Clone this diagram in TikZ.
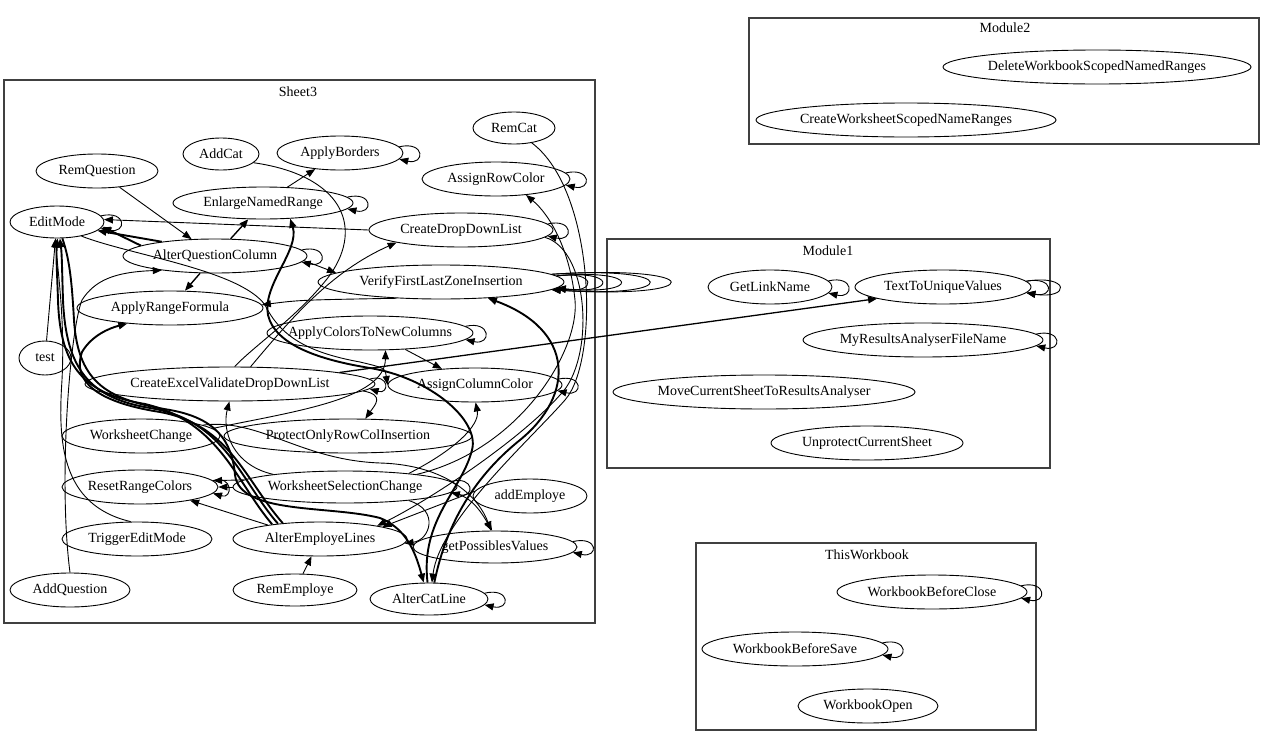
\documentclass[tikz,border=0pt]{standalone}
\usepackage{fontspec}
\setmainfont{Liberation Serif}
\usetikzlibrary{arrows.meta,calc,shapes.geometric}
\tikzset{
  nd/.style={draw, ellipse, inner sep=0pt, line width=0.9pt},
  e/.style={draw, line width=0.9pt, -{Triangle[length=9pt,width=7pt]}},
  eb/.style={e, line width=1.9pt},
  em/.style={e, line width=1.4pt},
  cl/.style={draw=black!75, line width=1.1pt},
  cll/.style={inner sep=0pt},
}
\newcommand\mknode[6]{\node[nd, minimum width=#4pt, minimum height=#5pt] (#1) at (#2,#3) {\makebox[0pt]{#6}};}
\newcommand\myloop[4]{\pgfmathtruncatemacro\la{atan2(#3*0.4,#2*0.917)}\draw[e] (#1.\la) .. controls +(#4,-6) and +(#4,6) .. (#1.-\la);}
\begin{document}
\begin{tikzpicture}[x=1pt,y=-1pt,font=\fontsize{14}{16}\selectfont]
\useasboundingbox[fill=white] (0,0) rectangle (1267,739);
% clusters
\draw[cl] (4,80) rectangle (595,623);
\node[cll] (lsheet) at (298,92) {Sheet3};
\draw[cl] (749,18) rectangle (1259,144);
\node[cll] (lmod2) at (1005,28) {Module2};
\draw[cl] (607,239) rectangle (1050,468);
\node[cll] (lmod1) at (828,251) {Module1};
\draw[cl] (696,543) rectangle (1036,730);
\node[cll] (lwb) at (867,555) {ThisWorkbook};
% Sheet3 nodes
\mknode{remq}{97}{171}{122}{34}{RemQuestion}
\mknode{addcat}{221}{154}{76}{32}{AddCat}
\mknode{applyb}{340}{153}{126}{34}{ApplyBorders}
\mknode{enr}{263}{203}{180}{32}{EnlargeNamedRange}
\mknode{edit}{57}{222}{94}{32}{EditMode}
\mknode{aqc}{215}{256}{184}{34}{AlterQuestionColumn}
\mknode{arf}{170}{308}{186}{34}{ApplyRangeFormula}
\mknode{remcat}{514}{128}{82}{32}{RemCat}
\mknode{arc}{496}{179}{148}{34}{AssignRowColor}
\mknode{cddl}{461}{230}{184}{34}{CreateDropDownList}
\mknode{verify}{441}{282}{246}{34}{VerifyFirstLastZoneInsertion}
\mknode{actnc}{370}{333}{206}{34}{ApplyColorsToNewColumns}
\mknode{cevddl}{230}{384}{290}{34}{CreateExcelValidateDropDownList}
\mknode{acc}{475}{385}{174}{34}{AssignColumnColor}
\mknode{test}{45}{358}{52}{34}{test}
\mknode{wc}{141}{436}{158}{34}{WorksheetChange}
\mknode{porci}{348}{436}{248}{34}{ProtectOnlyRowColInsertion}
\mknode{rrc}{140}{487}{156}{34}{ResetRangeColors}
\mknode{wsc}{345}{487}{224}{32}{WorksheetSelectionChange}
\mknode{addemp}{530}{496}{114}{34}{addEmploye}
\mknode{trig}{137}{539}{150}{34}{TriggerEditMode}
\mknode{ael}{320}{539}{174}{34}{AlterEmployeLines}
\mknode{gpv}{495}{547}{164}{32}{getPossiblesValues}
\mknode{addq}{70}{590}{120}{34}{AddQuestion}
\mknode{reme}{295}{590}{124}{32}{RemEmploye}
\mknode{acl}{429}{599}{118}{32}{AlterCatLine}
% Module2
\mknode{dwsnr}{1097}{67}{308}{34}{DeleteWorkbookScopedNamedRanges}
\mknode{cwsnr}{906}{120}{300}{34}{CreateWorksheetScopedNameRanges}
% Module1
\mknode{gln}{770}{287}{124}{34}{GetLinkName}
\mknode{ttuv}{943}{287}{176}{34}{TextToUniqueValues}
\mknode{myr}{923}{340}{240}{34}{MyResultsAnalyserFileName}
\mknode{mcs}{764}{392}{302}{34}{MoveCurrentSheetToResultsAnalyser}
\mknode{ucs}{867}{443}{192}{34}{UnprotectCurrentSheet}
% ThisWorkbook
\mknode{wbc}{932}{592}{190}{34}{WorkbookBeforeClose}
\mknode{wbs}{795}{649}{186}{34}{WorkbookBeforeSave}
\mknode{wbo}{868}{706}{140}{34}{WorkbookOpen}
% self loops
\myloop{edit}{47}{16}{26}
\myloop{aqc}{92}{17}{26}
\myloop{enr}{90}{16}{26}
\myloop{applyb}{63}{17}{26}
\myloop{arc}{74}{17}{26}
\myloop{cddl}{92}{17}{26}
\myloop{actnc}{103}{17}{26}
\myloop{acc}{87}{17}{26}
\myloop{cevddl}{145}{17}{20}
\myloop{wsc}{112}{16}{24}
\myloop{rrc}{78}{17}{20}
\myloop{gpv}{82}{16}{26}
\myloop{acl}{59}{16}{26}
\myloop{gln}{62}{17}{26}
\myloop{myr}{120}{17}{26}
\myloop{wbc}{95}{17}{26}
\myloop{wbs}{93}{17}{26}
\draw[e] (ttuv.4) .. controls +(28,-5) and +(28,5) .. (ttuv.-4);
\draw[e] (ttuv.4) .. controls +(44,-7) and +(44,7) .. (ttuv.-4);
\draw[e] (verify.3) .. controls +(40,-6) and +(40,6) .. (verify.-3);
\draw[e] (verify.3) .. controls +(60,-7) and +(60,7) .. (verify.-3);
\draw[e] (verify.3) .. controls +(85,-8) and +(85,8) .. (verify.-3);
\draw[e] (verify.4) .. controls +(130,-9) and +(130,9) .. (verify.-4);
\draw[e] (verify.4) .. controls +(158,-10) and +(158,10) .. (verify.-4);
% Sheet3 edges
\draw[e] (remq) -- (aqc);
\draw[eb] (aqc.165) -- (edit.-12);
\draw[eb] (aqc.172) -- (edit.-6);
\draw[em] (aqc) -- (enr);
\draw[em] (aqc) -- (arf);
\draw[e] (enr) -- (applyb);
\draw[e] (cddl.180) -- (edit.3);
\draw[line width=0.9pt] (addcat.-15) .. controls (340,175) and (365,225) .. (330,275) .. controls (300,315) and (255,345) .. (cevddl.75);
\draw[e] (cevddl.40) .. controls (290,320) and (330,272) .. (cddl.-169);
\draw[e] (aqc.-3) -- (verify.175);
\draw[e] (verify.200) .. controls (300,300) .. (arf.2);
\draw[e] (edit.-30) .. controls (130,255) and (240,270) .. (265,305) .. controls (280,335) and (305,352) .. (360,362) .. controls (385,368) .. (acc.180);
\draw[e] (test) -- (edit);
\draw[e] (trig.110) .. controls (60,505) and (58,440) .. (62,380) .. controls (65,320) and (58,275) .. (edit.-95);
\draw[e] (addq.90) .. controls (58,480) and (70,330) .. (82,300) .. controls (95,280) and (115,272) .. (aqc.195);
% thick bundle
\draw[eb] (ael.160) .. controls (240,480) and (225,420) .. (150,408) .. controls (90,398) and (66,370) .. (63,300) .. controls (62,270) and (62,255) .. (edit.-80);
\draw[eb] (ael.163) .. controls (236,482) and (220,422) .. (145,404) .. controls (85,394) and (60,368) .. (58,300) .. controls (57,270) and (56,255) .. (edit.-88);
\draw[eb] (ael.157) .. controls (245,480) and (230,425) .. (160,412) .. controls (95,402) and (72,380) .. (82,352) .. controls (92,335) and (110,328) .. (arf.-160);
\draw[eb] (edit.-72) .. controls (70,260) and (72,285) .. (74,320) .. controls (78,385) and (110,400) .. (170,410) .. controls (215,418) and (232,440) .. (235,475) .. controls (240,515) and (330,505) .. (380,518) .. controls (405,528) and (415,550) .. (acl.108);
\draw[eb] (acl.95) .. controls (420,520) and (462,490) .. (472,450) .. controls (480,420) and (430,378) .. (370,368) .. controls (320,360) and (275,345) .. (268,315) .. controls (262,285) and (300,250) .. (enr.-30);
\draw[eb] (acl.72) .. controls (445,530) and (470,480) .. (520,440) .. controls (575,395) and (575,330) .. (verify.-19);
% other thin edges
\draw[e] (wsc.180) -- (rrc.0);
\draw[e] (wsc.176) -- (rrc.5);
\draw[e] (ael.165) -- (rrc.-15);
\draw[e] (reme) -- (ael);
\draw[e] (addemp.175) -- (ael.11);
\draw[e] (cddl.-5) .. controls (590,250) and (595,360) .. (560,395) .. controls (520,440) and (430,500) .. (ael.13);
\draw[e] (remcat.-40) .. controls (595,190) and (600,360) .. (565,400) .. controls (530,440) and (440,520) .. (acl.80);
\draw[e] (wsc.10) .. controls (520,450) and (580,350) .. (575,300) .. controls (570,250) and (550,215) .. (arc.-28);
\draw[e] (wsc.12) .. controls (455,450) and (480,425) .. (acc.-88);
\draw[e] (wsc.-3) .. controls (470,495) and (480,510) .. (gpv.100);
\draw[e] (wc.10) .. controls (260,418) and (300,460) .. (380,463) .. controls (450,465) and (480,500) .. (gpv.104);
\draw[e] (wsc.-12) .. controls (440,510) and (430,540) .. (ael.-3);
\draw[e] (wsc.170) .. controls (232,465) and (222,430) .. (cevddl.-92);
\draw[e] (wc.6) .. controls (290,412) and (385,400) .. (actnc.-48);
\draw[e] (cevddl.-3) .. controls (385,395) and (375,405) .. (porci.45);
\draw[e] (actnc.-25) -- (acc.154);
\draw[e, line width=1.3pt] (cevddl.6) -- (ttuv.-170);
\end{tikzpicture}
\end{document}
